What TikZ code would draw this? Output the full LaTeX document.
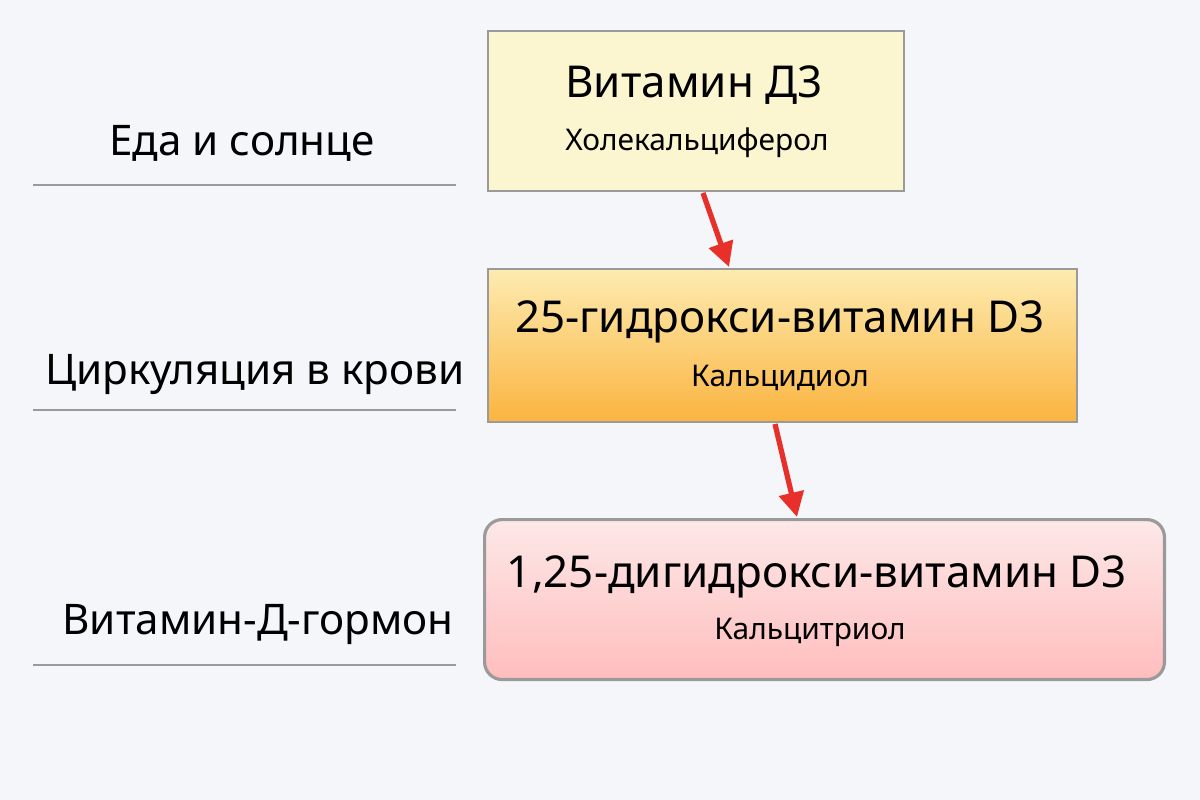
\documentclass[tikz,border=0pt]{standalone}
\usepackage{fontspec}
\setmainfont{Noto Sans}
\usetikzlibrary{arrows.meta}
\definecolor{bg}{HTML}{F5F6FA}
\definecolor{bordc}{HTML}{9A9A9A}
\definecolor{arr}{HTML}{E8302A}
\definecolor{c1}{HTML}{FCF6D0}
\definecolor{c2t}{HTML}{FDEBB0}
\definecolor{c2b}{HTML}{FBB440}
\definecolor{c3t}{HTML}{FDE8E8}
\definecolor{c3b}{HTML}{FFBDBD}
\tikzset{
 box/.style={draw=bordc,line width=1.2pt},
 ttl/.style={font=\fontsize{25}{28}\selectfont},
 sub/.style={font=\fontsize{17}{20}\selectfont},
 lbl/.style={font=\fontsize{24}{28}\selectfont},
 sep/.style={draw=bordc,line width=1pt},
 flow/.style={draw=arr,line width=3pt,-{Triangle[length=14pt,width=14pt]}}
}
\begin{document}
\begin{tikzpicture}[x=0.02cm,y=-0.02cm]
\fill[bg] (0,0) rectangle (1200,800);
\useasboundingbox (0,0) rectangle (1200,800);
\node[box,fill=c1,minimum width=8.32cm,minimum height=3.2cm,anchor=north west,inner sep=0] (b1) at (487,30) {};
\node[box,top color=c2t,bottom color=c2b,minimum width=11.78cm,minimum height=3.06cm,anchor=north west,inner sep=0] (b2) at (487,268) {};
\node[box,line width=1.8pt,rounded corners=10pt,top color=c3t,bottom color=c3b,minimum width=13.6cm,minimum height=3.2cm,anchor=north west,inner sep=0] (b3) at (483,518) {};
\node[ttl] (t1) at (694,85) {Витамин Д3};
\node[sub] (s1) at (697,143) {Холекальциферол};
\node[ttl] (t2) at (780,322) {25-гидрокси-витамин D3};
\node[sub] (s2) at (780,378) {Кальцидиол};
\node[ttl] (t3) at (817,577) {1,25-дигидрокси-витамин D3};
\node[sub] (s3) at (810,632) {Кальцитриол};
\coordinate (a1s) at (703,193); \coordinate (a1e) at (729,267);
\coordinate (a2s) at (775,424); \coordinate (a2e) at (797,517);
\draw[flow] (a1s) -- (a1e);
\draw[flow] (a2s) -- (a2e);
\node[lbl] (l1) at (242,143) {Еда и солнце};
\node[lbl] (l2) at (255,375) {Циркуляция в крови};
\node[lbl] (l3) at (258,625) {Витамин-Д-гормон};
\coordinate (p1) at (33,185); \coordinate (q1) at (456,185);
\coordinate (p2) at (33,410); \coordinate (q2) at (456,410);
\coordinate (p3) at (33,665); \coordinate (q3) at (456,665);
\draw[sep] (p1) -- (q1); \draw[sep] (p2) -- (q2); \draw[sep] (p3) -- (q3);
\end{tikzpicture}
\end{document}
